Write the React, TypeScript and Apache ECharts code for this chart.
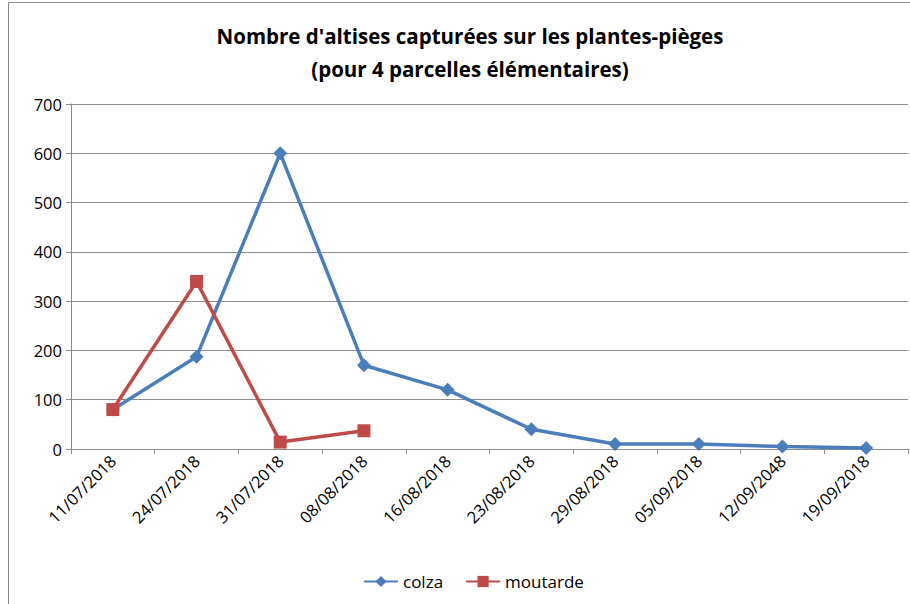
import React, { useEffect, useRef } from "react";
import * as echarts from "echarts";

const dates = ["11/07/2018", "24/07/2018", "31/07/2018", "08/08/2018", "16/08/2018", "23/08/2018", "29/08/2018", "05/09/2018", "12/09/2048", "19/09/2018"];
const colza = [80, 187, 600, 170, 120, 40, 10, 10, 5, 2];
const moutarde: (number | null)[] = [80, 340, 14, 37, null, null, null, null, null, null];
const titleLines = ["Nombre d'altises capturées sur les plantes-pièges", "(pour 4 parcelles élémentaires)"];

const FONT = "'Open Sans', 'Noto Sans', sans-serif";

export default function App() {
  const ref = useRef<HTMLDivElement>(null);
  useEffect(() => {
    if (!ref.current) return;
    const chart = echarts.init(ref.current, null, { renderer: "svg" });
    chart.setOption({
      animation: false,
      backgroundColor: "#fff",
      title: {
        text: titleLines.join("\n"),
        left: 465,
        textAlign: "center",
        top: 14,
        textStyle: { fontFamily: FONT, fontWeight: "bold", fontSize: 20.5, lineHeight: 33, color: "#000" },
      },
      graphic: [
        { type: "line", shape: { x1: 8.5, y1: 2.5, x2: 910, y2: 2.5 }, style: { stroke: "#8c8c8c", lineWidth: 1 } },
        { type: "line", shape: { x1: 8.5, y1: 2.5, x2: 8.5, y2: 604 }, style: { stroke: "#8c8c8c", lineWidth: 1 } },
      ],
      legend: {
        bottom: 9,
        left: 358,
        itemWidth: 34,
        itemHeight: 14,
        itemGap: 22,
        textStyle: { fontFamily: FONT, fontSize: 17, color: "#000" },
        data: ["colza", "moutarde"],
      },
      grid: { left: 71, right: 2, top: 104, bottom: 155 },
      xAxis: {
        type: "category",
        data: dates,
        boundaryGap: true,
        axisLine: { lineStyle: { color: "#8c8c8c" } },
        axisTick: { show: true, length: 5, lineStyle: { color: "#8c8c8c" } },
        axisLabel: { rotate: 45, interval: 0, fontFamily: FONT, fontSize: 16.5, color: "#000", margin: 9 },
      },
      yAxis: {
        type: "value",
        min: 0,
        max: 700,
        interval: 100,
        axisLine: { show: true, lineStyle: { color: "#8c8c8c" } },
        axisTick: { show: true, length: 5, lineStyle: { color: "#8c8c8c" } },
        axisLabel: { fontFamily: FONT, fontSize: 16.5, color: "#000", margin: 9 },
        splitLine: { lineStyle: { color: "#8c8c8c" } },
      },
      series: [
        {
          name: "colza",
          type: "line",
          data: colza,
          symbol: "diamond",
          symbolSize: 14,
          lineStyle: { width: 3.5, color: "#4A7EBB" },
          itemStyle: { color: "#4A7EBB" },
        },
        {
          name: "moutarde",
          type: "line",
          data: moutarde,
          symbol: "rect",
          symbolSize: 13,
          lineStyle: { width: 3.5, color: "#BE4B48" },
          itemStyle: { color: "#BE4B48" },
        },
      ],
    });
    return () => chart.dispose();
  }, []);
  return <div ref={ref} style={{ position: "fixed", left: 0, top: 0, width: 910, height: 604 }} />;
}
